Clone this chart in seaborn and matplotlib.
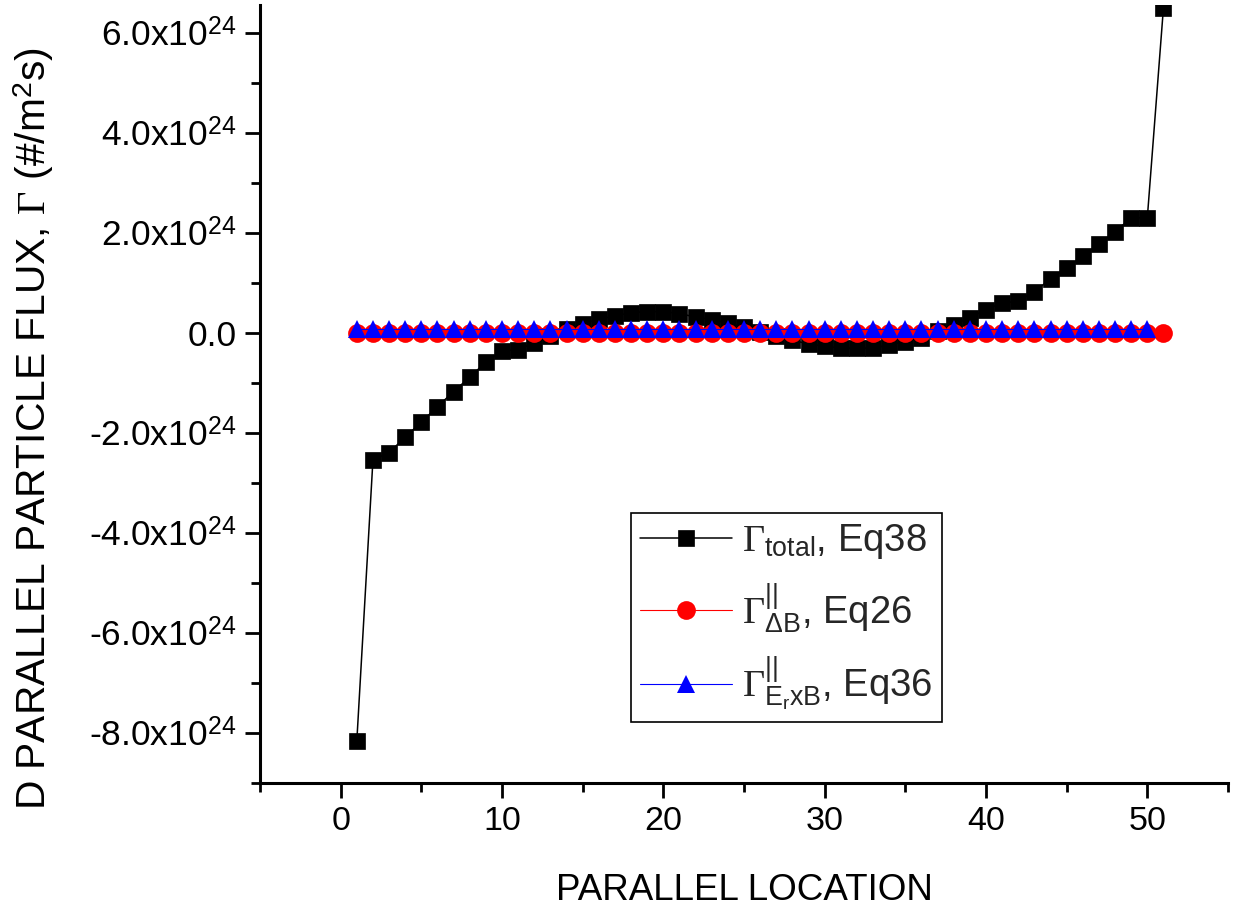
import matplotlib
matplotlib.use("Agg")
import matplotlib.pyplot as plt
import numpy as np
import pandas as pd
import seaborn as sns
from matplotlib.ticker import MultipleLocator, FuncFormatter

# Parallel location index along the field line
location = [1, 2, 3, 4, 5, 6, 7, 8, 9, 10,
            11, 12, 13, 14, 15, 16, 17, 18, 19, 20,
            21, 22, 23, 24, 25, 26, 27, 28, 29, 30,
            31, 32, 33, 34, 35, 36, 37, 38, 39, 40,
            41, 42, 43, 44, 45, 46, 47, 48, 49, 50, 51]

# Fluxes in units of 1e24 particles / (m^2 s)
gamma_total = [-8.17, -2.55, -2.40, -2.09, -1.79, -1.48, -1.18, -0.89, -0.59, -0.37,
               -0.34, -0.21, -0.07, 0.07, 0.17, 0.27, 0.33, 0.40, 0.42, 0.42,
               0.38, 0.31, 0.26, 0.19, 0.11, 0.02, -0.07, -0.15, -0.23, -0.27,
               -0.31, -0.31, -0.31, -0.25, -0.18, -0.10, 0.03, 0.16, 0.30, 0.46,
               0.59, 0.63, 0.82, 1.07, 1.29, 1.53, 1.77, 2.02, 2.29, 2.30, 6.50]

gamma_db = [0.0, 0.0, 0.0, 0.0, 0.0, 0.0, 0.0, 0.0, 0.0, 0.0,
            0.0, 0.0, 0.0, 0.0, 0.0, 0.0, 0.0, 0.0, 0.0, 0.0,
            0.0, 0.0, 0.0, 0.0, 0.0, 0.0, 0.0, 0.0, 0.0, 0.0,
            0.0, 0.0, 0.0, 0.0, 0.0, 0.0, 0.0, 0.0, 0.0, 0.0,
            0.0, 0.0, 0.0, 0.0, 0.0, 0.0, 0.0, 0.0, 0.0, 0.0, 0.0]

gamma_exb = [0.08, 0.08, 0.08, 0.08, 0.08, 0.08, 0.08, 0.08, 0.08, 0.08,
             0.08, 0.08, 0.08, 0.08, 0.08, 0.08, 0.08, 0.08, 0.08, 0.08,
             0.08, 0.08, 0.08, 0.08, 0.08, 0.08, 0.08, 0.08, 0.08, 0.08,
             0.08, 0.08, 0.08, 0.08, 0.08, 0.08, 0.08, 0.08, 0.08, 0.08,
             0.08, 0.08, 0.08, 0.08, 0.08, 0.08, 0.08, 0.08, 0.08, 0.08]

series_labels = [r"$\Gamma_{\mathsf{total}}$, Eq38",
                 r"$\Gamma^{\mathsf{||}}_{\mathsf{\Delta B}}$, Eq26",
                 r"$\Gamma^{\mathsf{||}}_{\mathsf{E_{r}xB}}$, Eq36"]

x_label = "PARALLEL LOCATION"
y_label = r"D PARALLEL PARTICLE FLUX, $\Gamma$ (#/m$^{\mathsf{2}}$s)"

SCALE = 1e24

sns.set_theme(style="ticks")
plt.rcParams["font.family"] = ["Liberation Sans", "DejaVu Sans"]
plt.rcParams["mathtext.fontset"] = "custom"
plt.rcParams["mathtext.rm"] = "Liberation Serif"
plt.rcParams["mathtext.sf"] = "Liberation Sans"
plt.rcParams["mathtext.it"] = "Liberation Serif:italic"
plt.rcParams["mathtext.bf"] = "Liberation Serif:bold"

df_total = pd.DataFrame({"x": location, "y": np.array(gamma_total) * SCALE})
df_db = pd.DataFrame({"x": location, "y": np.array(gamma_db) * SCALE})
df_exb = pd.DataFrame({"x": location[:len(gamma_exb)], "y": np.array(gamma_exb) * SCALE})

fig = plt.figure(figsize=(12.33, 9.09), dpi=100)
ax = fig.add_axes([260 / 1233, 1 - 782.7 / 909, 968 / 1233, 777.7 / 909])

sns.lineplot(data=df_total, x="x", y="y", ax=ax, color="black", linewidth=1.1,
             marker="s", markersize=12, markeredgewidth=0.5, markeredgecolor="black",
             label=series_labels[0], zorder=3)
sns.lineplot(data=df_db, x="x", y="y", ax=ax, color="#ff0000", linewidth=0.8,
             marker="o", markersize=13.5, markeredgewidth=0, label=series_labels[1], zorder=4)
sns.lineplot(data=df_exb, x="x", y="y", ax=ax, color="#0000ff", linewidth=0.8,
             marker="^", markersize=13.5, markeredgewidth=0, label=series_labels[2], zorder=5)

ax.set_xlim(-5, 55)
ax.set_ylim(-9e24, 6.55e24)

ax.xaxis.set_major_locator(MultipleLocator(10))
ax.xaxis.set_minor_locator(MultipleLocator(5))
ax.yaxis.set_major_locator(MultipleLocator(2e24))
ax.yaxis.set_minor_locator(MultipleLocator(1e24))


def y_fmt(v, pos):
    m = v / SCALE
    if abs(m) < 1e-9:
        return "0.0"
    return f"{m:.1f}x10" + r"$^{\mathsf{24}}$"


ax.yaxis.set_major_formatter(FuncFormatter(y_fmt))

for side in ("top", "right"):
    ax.spines[side].set_visible(False)
for side in ("left", "bottom"):
    ax.spines[side].set_linewidth(2.2)
    ax.spines[side].set_color("black")

ax.tick_params(axis="both", which="major", direction="out", length=11, width=2.0,
               color="black", labelcolor="black")
ax.tick_params(axis="both", which="minor", direction="out", length=6.5, width=2.0,
               color="black")
ax.tick_params(axis="y", which="major", pad=6, labelsize=25.5)
ax.tick_params(axis="x", which="major", pad=6, labelsize=24.5)

ax.set_xlabel(x_label, fontsize=26.5, labelpad=26, color="black")
ax.set_ylabel(y_label, fontsize=29.3, color="black")
ax.yaxis.set_label_coords(-0.211, 0.455)

leg = ax.legend(loc="upper left", bbox_to_anchor=(0.383, 0.347), borderaxespad=0,
                fontsize=27.5, frameon=True, fancybox=False, edgecolor="black",
                handlelength=2.4, handletextpad=0.27, labelspacing=0.52,
                borderpad=0.25)
leg.get_frame().set_linewidth(1.2)
leg.get_frame().set_alpha(1)

ax.set_facecolor("white")
fig.patch.set_facecolor("white")
fig.savefig("out.png", dpi=100, facecolor="white")
